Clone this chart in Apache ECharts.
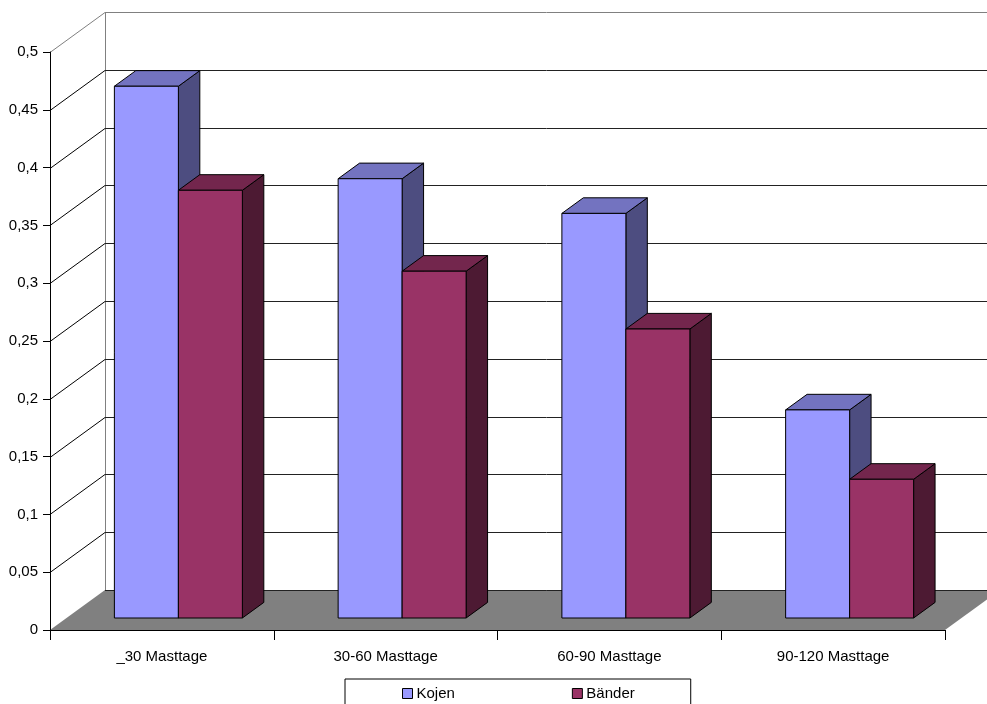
<!DOCTYPE html>
<html>
<head>
<meta charset="utf-8">
<script src="https://cdn.jsdelivr.net/npm/echarts@6/dist/echarts.min.js"></script>
<style>
  html, body { margin: 0; padding: 0; background: #fff; }
  #chart { width: 987px; height: 704px; }
</style>
</head>
<body>
<div id="chart"></div>
<script>
const categories = ['_30 Masttage', '30-60 Masttage', '60-90 Masttage', '90-120 Masttage']
const kojen = [0.46, 0.38, 0.35, 0.18]
const baender = [0.37, 0.30, 0.25, 0.12]
const yTicks = [0, 0.05, 0.1, 0.15, 0.2, 0.25, 0.3, 0.35, 0.4, 0.45, 0.5]

// depth of the box (front floor edge -> back wall)
const DX = 55
const DY = -40
const BAR_PLANE = 0.3
const BAR_DEPTH = 0.39
const BAR_W = 0.286

const chart = echarts.init(document.getElementById('chart'))

const renderFrame = (params, api) => {
  const catW = api.size([1, 0])[0]
  const p0 = api.coord([0, 0])
  const left = p0[0] - catW / 2
  const right = api.coord([categories.length - 1, 0])[0] + catW / 2
  const y0 = p0[1]
  const yTop = api.coord([0, yTicks[yTicks.length - 1]])[1]
  const children = [{
    type: 'polygon',
    shape: {points: [[left, y0], [right, y0], [right + DX, y0 + DY], [left + DX, y0 + DY]]},
    style: {fill: '#808080'},
  }, {
    type: 'line',
    shape: {x1: left + DX + 0.5, y1: y0 + DY, x2: left + DX + 0.5, y2: yTop + DY},
    style: {stroke: '#808080', lineWidth: 1},
  }]
  yTicks.forEach((v, i) => {
    const y = Math.round(api.coord([0, v])[1]) + 0.5
    const last = i === yTicks.length - 1
    if (i > 0) {
      children.push({
        type: 'line',
        shape: {x1: left, y1: y, x2: left + DX, y2: y + DY},
        style: {stroke: last ? '#808080' : '#000', lineWidth: 1},
      })
    }
    children.push({
      type: 'line',
      shape: {x1: left + DX, y1: y + DY, x2: 1200, y2: y + DY},
      style: {stroke: last ? '#808080' : '#222', lineWidth: 1},
    })
  })
  return {type: 'group', children: children}
}

const makeBar = (k, front, top, side) => (params, api) => {
  const i = api.value(0)
  const v = api.value(1)
  const catW = api.size([1, 0])[0]
  const base = api.coord([i, 0])
  const tp = api.coord([i, v])
  const w = catW * BAR_W
  const x0 = base[0] + DX * BAR_PLANE - w + k * w
  const x1 = x0 + w
  const yb = base[1] + DY * BAR_PLANE
  const yt = tp[1] + DY * BAR_PLANE
  const dx = DX * BAR_DEPTH
  const dy = DY * BAR_DEPTH
  const line = {stroke: '#000', lineWidth: 1}
  return {
    type: 'group',
    children: [{
      type: 'polygon',
      shape: {points: [[x1, yt], [x1 + dx, yt + dy], [x1 + dx, yb + dy], [x1, yb]]},
      style: Object.assign({fill: side}, line),
    }, {
      type: 'polygon',
      shape: {points: [[x0, yt], [x1, yt], [x1 + dx, yt + dy], [x0 + dx, yt + dy]]},
      style: Object.assign({fill: top}, line),
    }, {
      type: 'rect',
      shape: {x: x0, y: yt, width: w, height: yb - yt},
      style: Object.assign({fill: front}, line),
    }],
  }
}

chart.setOption({
  backgroundColor: '#fff',
  animation: false,
  textStyle: {fontFamily: 'Liberation Sans, Arial, sans-serif'},
  grid: {
    left: 50,
    top: 52,
    width: 895,
    height: 578,
  },
  legend: {
    left: 345,
    top: 679,
    padding: [7, 56, 12, 57],
    borderColor: '#000',
    borderWidth: 1,
    itemGap: 117,
    itemWidth: 10,
    itemHeight: 10,
    icon: 'rect',
    textStyle: {fontSize: 15, color: '#000', padding: [2, 0, 0, -1]},
    data: [
      {name: 'Kojen', itemStyle: {color: '#9999FF', borderColor: '#000', borderWidth: 1}},
      {name: 'Bänder', itemStyle: {color: '#993366', borderColor: '#000', borderWidth: 1}},
    ],
  },
  xAxis: {
    type: 'category',
    data: categories,
    z: 10,
    axisLine: {lineStyle: {color: '#000', width: 1}},
    axisTick: {show: true, length: 10, lineStyle: {color: '#000'}},
    axisLabel: {fontSize: 15, color: '#000', margin: 19},
  },
  yAxis: {
    type: 'value',
    min: 0,
    max: 0.5,
    interval: 0.05,
    z: 10,
    axisLine: {show: true, lineStyle: {color: '#000', width: 1}},
    axisTick: {show: true, length: 7, lineStyle: {color: '#000'}},
    axisLabel: {
      fontSize: 15,
      color: '#000',
      margin: 12,
      formatter: (v) => String(Math.round(v * 100) / 100).replace('.', ','),
    },
    splitLine: {show: false},
  },
  series: [{
    name: 'frame',
    type: 'custom',
    z: 1,
    silent: true,
    renderItem: renderFrame,
    data: [[0, 0]],
  }, {
    name: 'Kojen',
    type: 'custom',
    z: 2,
    itemStyle: {color: '#9999FF'},
    renderItem: makeBar(0, '#9999FF', '#7373C0', '#4D4D80'),
    data: kojen.map((v, i) => [i, v]),
  }, {
    name: 'Bänder',
    type: 'custom',
    z: 3,
    itemStyle: {color: '#993366'},
    renderItem: makeBar(1, '#993366', '#73264D', '#4D1A33'),
    data: baender.map((v, i) => [i, v]),
  }],
})
</script>
</body>
</html>
